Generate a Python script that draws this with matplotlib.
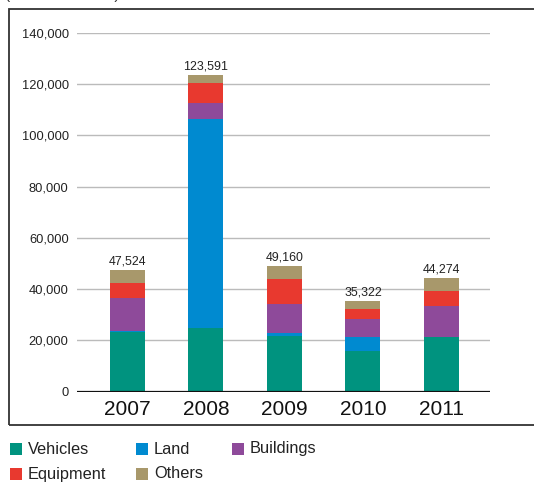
import matplotlib
matplotlib.use("Agg")
import matplotlib.pyplot as plt
import numpy as np
from matplotlib.patches import Rectangle

plt.rcParams["font.family"] = ["Liberation Sans", "DejaVu Sans"]

# ---- data ----
years = ["2007", "2008", "2009", "2010", "2011"]
vehicles  = [23400, 25000, 21800, 15900, 21300]
land      = [400, 81200, 1100, 5400, 0]
buildings = [12800, 6300, 11400, 7000, 12200]
equipment = [5900, 7800, 9600, 3900, 5700]
others    = [5024, 3291, 5260, 3122, 5074]
totals    = [47524, 123591, 49160, 35322, 44274]
yticks    = [0, 20000, 40000, 60000, 80000, 100000, 120000, 140000]

# ---- palette ----
C_VEH = "#00937F"
C_LAND = "#008AD0"
C_BLD = "#8E4A9A"
C_EQP = "#E8392F"
C_OTH = "#A8986B"

W, H = 534, 483
fig = plt.figure(figsize=(W / 100, H / 100), dpi=100)
fig.patch.set_facecolor("white")

# outer frame (right edge runs off the picture)
fig.patches.append(Rectangle((9 / W, 1 - 425 / H), 1.2, (425 - 9) / H,
                             transform=fig.transFigure, fill=False,
                             ec="#333333", lw=1.3))
# unit note, cropped at the top edge as in the source
fig.text(5 / W, 1 + 1.5 / H, "(US$ thousands)", ha="left", va="baseline",
         fontsize=11, color="#333333")

ax = fig.add_axes([77 / W, 1 - 391.7 / H, (490 - 77) / W, (391.7 - 32.7) / H])
x = np.arange(len(years))
bw = 0.446
series = [(vehicles, C_VEH), (land, C_LAND), (buildings, C_BLD),
          (equipment, C_EQP), (others, C_OTH)]
bottom = np.zeros(len(years))
for vals, col in series:
    ax.bar(x, vals, bw, bottom=bottom, color=col, zorder=3)
    bottom += np.array(vals)

for xi, t, top in zip(x, totals, bottom):
    ax.text(xi, top + 900, f"{t:,}", ha="center", va="bottom",
            fontsize=8.9, color="#222222")

ax.set_xlim(-0.644, 4.62)
ax.set_ylim(0, 140000)
ax.set_yticks(yticks)
ax.set_yticklabels([f"{v:,}" for v in yticks])
ax.set_xticks(x)
ax.set_xticklabels(years)
ax.tick_params(axis="y", length=0, pad=6, labelsize=9.3, colors="#222222")
ax.tick_params(axis="x", length=0, pad=6, labelsize=15, colors="#111111")
for s in ax.spines.values():
    s.set_visible(False)
ax.grid(axis="y", color="#BBBBBB", lw=1, zorder=0)
ax.axhline(0, color="#111111", lw=1.6, zorder=4)

# ---- legend ----
leg = [("Vehicles", C_VEH, 10, 449), ("Land", C_LAND, 136, 449),
       ("Buildings", C_BLD, 232, 449), ("Equipment", C_EQP, 10, 474),
       ("Others", C_OTH, 136, 474)]
for name, col, px, py in leg:
    fig.patches.append(Rectangle((px / W, 1 - (py + 6) / H), 12 / W, 12 / H,
                                 transform=fig.transFigure, fc=col, ec="none"))
    fig.text((px + 18) / W, 1 - py / H, name, ha="left", va="center",
             fontsize=11.8, color="#222222")

fig.savefig("out.png", dpi=100, facecolor="white")
